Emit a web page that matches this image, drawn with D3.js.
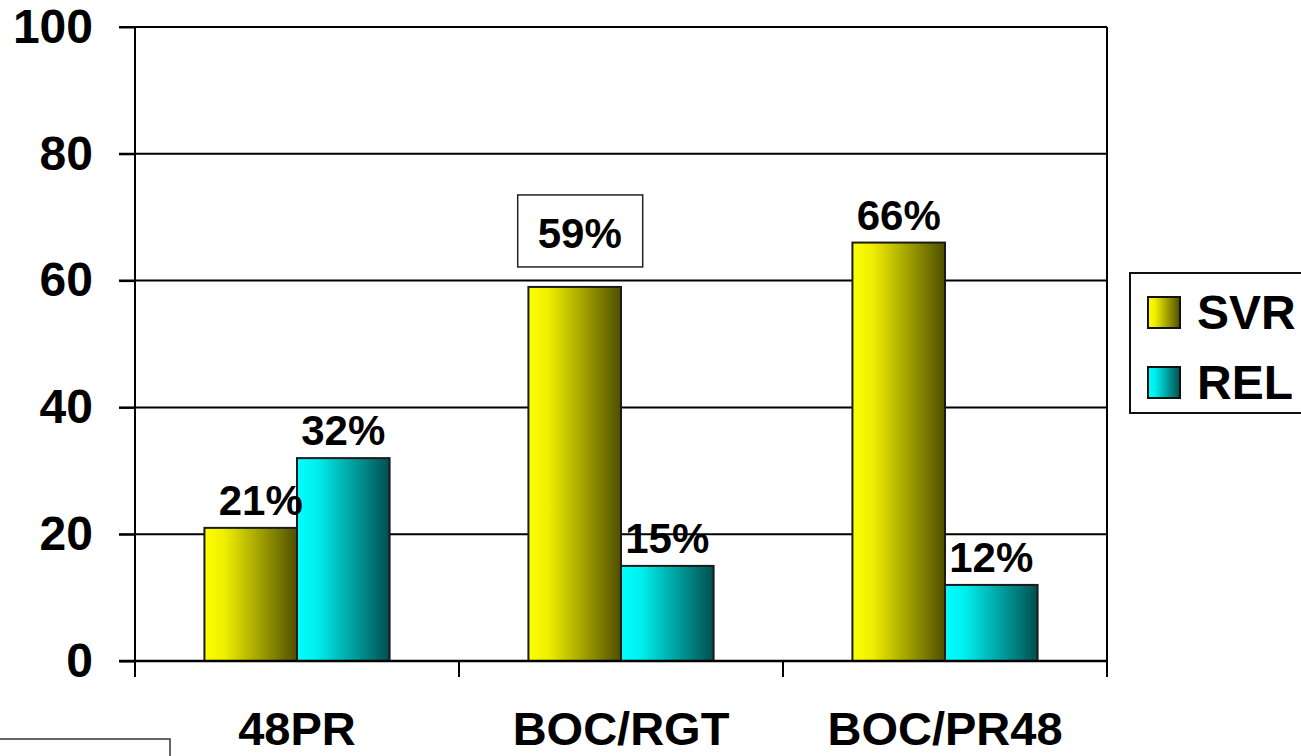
<!DOCTYPE html>
<html>
<head>
<meta charset="utf-8">
<script src="https://cdn.jsdelivr.net/npm/d3@7"></script>
<style>
  body { margin: 0; background: #fff; }
  svg { display: block; font-family: "Liberation Sans", Arial, sans-serif; font-weight: bold; }
</style>
</head>
<body>
<div id="chart-area"></div>
<script>
const categories = ["48PR", "BOC/RGT", "BOC/PR48"];
const seriesNames = ["SVR", "REL"];
const svrValues = [21, 59, 66];
const relValues = [32, 15, 12];
const yTicks = [0, 20, 40, 60, 80, 100];

const margin = { top: 27, left: 135, right: 194, bottom: 95 };
const W = 1301;
const H = 756;
const width = W - margin.left - margin.right;   // 972
const height = H - margin.top - margin.bottom;  // 634

const svg = d3.select("#chart-area")
    .append("svg")
    .attr("width", W)
    .attr("height", H);

// gradients for the bars
const defs = svg.append("defs");
const grads = [
    { id: "gradSVR", from: "#ffff00", mid: "#eeee00", to: "#4f4f00" },
    { id: "gradREL", from: "#00ffff", mid: "#00eeee", to: "#004f4f" }
];
grads.forEach((gd) => {
    const lg = defs.append("linearGradient")
        .attr("id", gd.id)
        .attr("x1", "0%").attr("x2", "100%")
        .attr("y1", "0%").attr("y2", "0%");
    lg.append("stop").attr("offset", "0%").attr("stop-color", gd.from);
    lg.append("stop").attr("offset", "22%").attr("stop-color", gd.mid);
    lg.append("stop").attr("offset", "100%").attr("stop-color", gd.to);
});
const fillFor = { SVR: "url(#gradSVR)", REL: "url(#gradREL)" };

const g = svg.append("g")
    .attr("transform", "translate(" + margin.left + ", " + margin.top + ")");

const x0 = d3.scaleBand()
    .domain(categories)
    .range([0, width])
    .padding(0);

const x1 = d3.scaleBand()
    .domain(seriesNames)
    .range([0, x0.bandwidth()])
    .paddingInner(0)
    .paddingOuter(0.75);

const y = d3.scaleLinear().domain([0, 100]).range([height, 0]);

// gridlines
g.append("g")
    .selectAll("line")
    .data(yTicks.filter((d) => d > 0))
    .enter()
    .append("line")
    .attr("x1", -16)
    .attr("x2", width)
    .attr("y1", (d) => y(d))
    .attr("y2", (d) => y(d))
    .attr("stroke", "#000")
    .attr("stroke-width", 2);

// left axis
const leftAxis = d3.axisLeft(y)
    .tickValues(yTicks)
    .tickSize(16)
    .tickSizeOuter(0)
    .tickPadding(26);
const ya = g.append("g").attr("class", "left axis").call(leftAxis);
ya.select(".domain").remove();
ya.selectAll("line").attr("stroke", "#000").attr("stroke-width", 2);
ya.selectAll("text")
    .attr("font-size", "48px")
    .attr("font-weight", "bold")
    .attr("font-family", "Liberation Sans, Arial, sans-serif")
    .attr("fill", "#000");

// vertical frame lines and category boundary ticks
const bounds = categories.map((c) => x0(c)).concat([width]);
g.append("g")
    .selectAll("line")
    .data(bounds)
    .enter()
    .append("line")
    .attr("x1", (d) => d)
    .attr("x2", (d) => d)
    .attr("y1", (d, i) => (i === 0 || i === bounds.length - 1) ? 0 : height)
    .attr("y2", height + 16)
    .attr("stroke", "#000")
    .attr("stroke-width", 2);

// bottom axis labels
const bottomAxis = d3.axisBottom(x0).tickSize(0).tickPadding(51);
const xa = g.append("g")
    .attr("class", "bottom axis")
    .attr("transform", "translate(0, " + height + ")")
    .call(bottomAxis);
xa.select(".domain").remove();
xa.selectAll("text")
    .attr("font-size", "47px")
    .attr("font-weight", "bold")
    .attr("font-family", "Liberation Sans, Arial, sans-serif")
    .attr("fill", "#000");

// bars
const rows = categories.map((c, i) => ({
    cat: c,
    vals: [{ key: "SVR", v: svrValues[i] }, { key: "REL", v: relValues[i] }]
}));

const groups = g.selectAll(".grp")
    .data(rows)
    .enter()
    .append("g")
    .attr("class", "grp")
    .attr("transform", (d) => "translate(" + x0(d.cat) + ",0)");

groups.selectAll("rect")
    .data((d) => d.vals)
    .enter()
    .append("rect")
    .attr("x", (d) => x1(d.key))
    .attr("y", (d) => y(d.v))
    .attr("width", x1.bandwidth())
    .attr("height", (d) => height - y(d.v))
    .attr("fill", (d) => fillFor[d.key])
    .attr("stroke", "#1a1a1a")
    .attr("stroke-width", 2);

// x axis baseline on top of bars
g.append("line")
    .attr("x1", -16).attr("x2", width)
    .attr("y1", height).attr("y2", height)
    .attr("stroke", "#000").attr("stroke-width", 2.5);

// value labels
groups.selectAll(".lbl")
    .data((d) => d.vals.map((v) => Object.assign({ cat: d.cat }, v)))
    .enter()
    .append("text")
    .attr("class", "lbl")
    .attr("x", (d) => x1(d.key) + x1.bandwidth() / 2 +
        (d.cat === "48PR" && d.key === "SVR" ? 10 : (d.cat === "BOC/RGT" && d.key === "SVR" ? 5 : 0)))
    .attr("y", (d) => y(d.v) - (d.cat === "BOC/RGT" && d.key === "SVR" ? 39 : 13))
    .attr("text-anchor", "middle")
    .attr("font-size", "42px")
    .attr("fill", "#000")
    .text((d) => d.v + "%");

// box around the 59% label
const boxed = groups.filter((d) => d.cat === "BOC/RGT");
boxed.append("rect")
    .attr("x", x1("SVR") + x1.bandwidth() / 2 - 57)
    .attr("y", y(svrValues[1]) - 92)
    .attr("width", 125)
    .attr("height", 72)
    .attr("fill", "none")
    .attr("stroke", "#222")
    .attr("stroke-width", 1.5);

// legend
const legend = svg.append("g").attr("transform", "translate(1130, 273)");
legend.append("rect")
    .attr("x", 0).attr("y", 0)
    .attr("width", 200).attr("height", 140)
    .attr("fill", "#fff")
    .attr("stroke", "#111")
    .attr("stroke-width", 2);
const li = legend.selectAll(".li")
    .data(seriesNames)
    .enter()
    .append("g")
    .attr("class", "li")
    .attr("transform", (d, i) => "translate(18," + (24 + i * 70) + ")");
li.append("rect")
    .attr("width", 32).attr("height", 31)
    .attr("fill", (d) => fillFor[d])
    .attr("stroke", "#111")
    .attr("stroke-width", 2);
li.append("text")
    .attr("x", 49)
    .attr("y", 32)
    .attr("font-size", "48px")
    .attr("fill", "#000")
    .text((d) => d);

// partial box at the bottom left
svg.append("path")
    .attr("d", "M-5,739 H170 V760")
    .attr("fill", "none")
    .attr("stroke", "#333")
    .attr("stroke-width", 1.5);
</script>
</body>
</html>
